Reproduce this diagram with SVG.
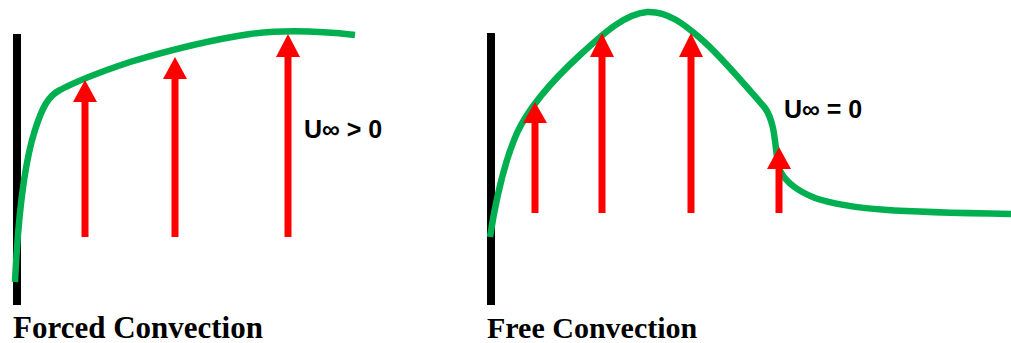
<svg xmlns="http://www.w3.org/2000/svg" width="1011" height="343" viewBox="0 0 1011 343">
<style>
.wall{fill:#000}
.bl{fill:none;stroke:#00b050;stroke-width:6.5;stroke-linejoin:round;stroke-linecap:butt}
.arr{stroke:#ff0000;stroke-width:7;fill:none}
.head{fill:#ff0000}
.u{font-family:"Liberation Sans",Arial,sans-serif;font-weight:bold;font-size:25px;fill:#000}
.cap{font-family:"Liberation Serif","Times New Roman",serif;font-weight:bold;font-size:30px;fill:#000}
</style>
<rect width="1011" height="343" fill="#fff"/>
<g id="forced">
<rect class="wall" x="13" y="34" width="8" height="271"/>
<path class="bl" d="M15,282 C17,240 22,170 35,130 C42,108 48,96 60,90 C75,82 100,72 130,62 C170,50 210,40 250,34 C280,30 320,31 355,35"/>
<g id="forced-arrows">
<line class="arr" x1="85" y1="237" x2="85" y2="100"/>
<polygon class="head" points="85,80 97,102 73,102"/>
<line class="arr" x1="175" y1="237" x2="175" y2="77"/>
<polygon class="head" points="175,57 187,79 163,79"/>
<line class="arr" x1="288" y1="237" x2="288" y2="55"/>
<polygon class="head" points="288,34 300,57 276,57"/>
</g>
<text class="u" x="304" y="138">U∞ &gt; 0</text>
<text class="cap" x="13" y="338" style="font-size:31px">Forced Convection</text>
</g>
<g id="free">
<rect class="wall" x="487" y="33" width="8" height="272"/>
<path class="bl" d="M490,237 C495,205 503,165 517,133 C530,105 555,78 580,55 C605,32 625,14 647,12 C668,11 685,25 700,38 C720,55 745,85 765,108 C775,122 775,145 778,165 C782,180 795,190 815,198 C850,210 900,212 1011,214"/>
<g id="free-arrows">
<line class="arr" x1="535" y1="213" x2="535" y2="121"/>
<polygon class="head" points="535,102 547,123 523,123"/>
<line class="arr" x1="602" y1="213" x2="602" y2="55"/>
<polygon class="head" points="602,33 614,57 590,57"/>
<line class="arr" x1="691" y1="213" x2="691" y2="55"/>
<polygon class="head" points="691,33 703,57 679,57"/>
<line class="arr" x1="779" y1="213" x2="779" y2="167"/>
<polygon class="head" points="779,147 791,169 767,169"/>
</g>
<text class="u" x="784" y="118">U∞ = 0</text>
<text class="cap" x="487" y="338">Free Convection</text>
</g>
</svg>
